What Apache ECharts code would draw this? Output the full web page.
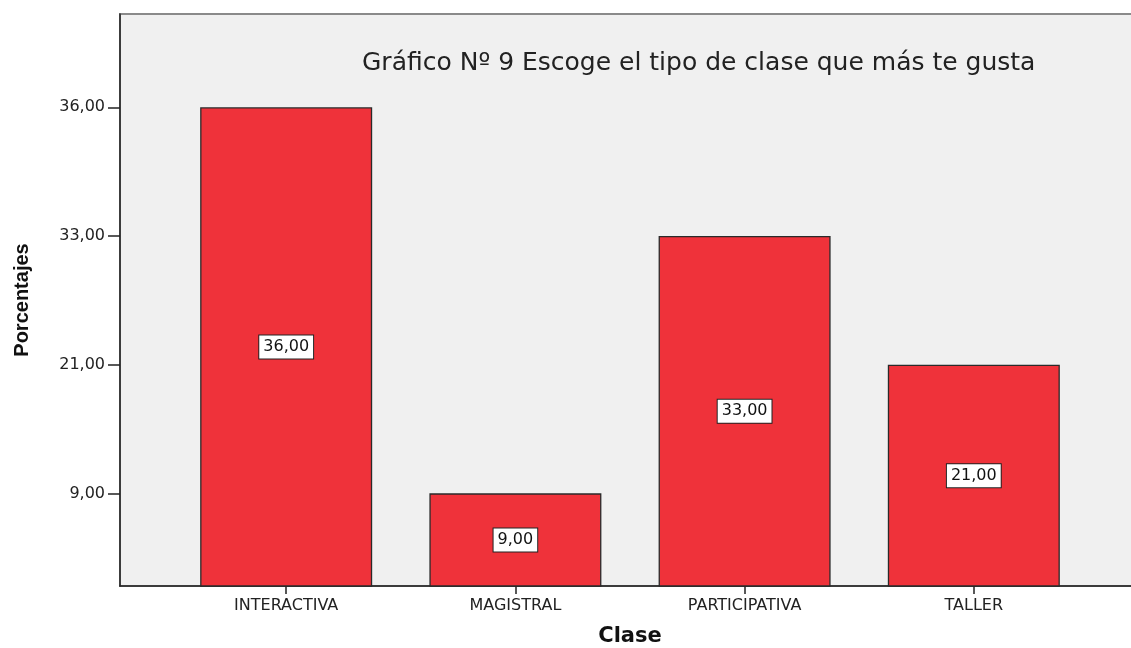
<!DOCTYPE html>
<html>
<head>
<meta charset="utf-8">
<title>Gráfico Nº 9</title>
<script src="https://cdn.jsdelivr.net/npm/echarts@6/dist/echarts.min.js"></script>
<style>
  html, body { margin: 0; padding: 0; background: #fff; }
  #chart { width: 1131px; height: 648px; }
</style>
</head>
<body>
<div id="chart"></div>
<script>
// datos del gráfico
const categories = ['INTERACTIVA', 'MAGISTRAL', 'PARTICIPATIVA', 'TALLER']
const percentages = [36, 9, 33, 21]
// el eje Y de SPSS es ordinal: una marca por cada valor distinto
const yTickValues = [9, 21, 33, 36]

function fmt(v) {
  return v.toFixed(2).replace('.', ',')
}

// posición ordinal de cada valor en el eje Y (1..n)
const tickRanks = yTickValues.map((v, i) => i + 1)
const barData = percentages.map((v, i) => [i, yTickValues.indexOf(v) + 1])

const chart = echarts.init(document.getElementById('chart'))

const option = {
  animation: false,
  title: {
    text: 'Gráfico Nº 9 Escoge el tipo de clase que más te gusta',
    left: 357,
    top: 46,
    textStyle: {
      fontFamily: 'DejaVu Sans',
      fontSize: 25,
      fontWeight: 'normal',
      color: '#222'
    }
  },
  grid: {
    left: 120,
    top: 14,
    width: 1020,
    height: 572,
    outerBoundsMode: 'none',
    containLabel: false,
    show: true,
    backgroundColor: '#f0f0f0',
    borderColor: '#8a8a8a',
    borderWidth: 2
  },
  xAxis: {
    type: 'value',
    min: -0.725,
    max: 3.725,
    name: 'Clase',
    nameLocation: 'middle',
    nameGap: 40,
    nameTextStyle: {
      fontFamily: 'DejaVu Sans',
      fontWeight: 'bold',
      fontSize: 21,
      color: '#111'
    },
    splitLine: { show: false },
    axisLine: { show: true, onZero: false, lineStyle: { color: '#222', width: 1.5 } },
    axisTick: {
      show: true,
      length: 8,
      customValues: categories.map((c, i) => i),
      lineStyle: { color: '#222', width: 1.5 }
    },
    axisLabel: {
      customValues: categories.map((c, i) => i),
      formatter: (v) => categories[Math.round(v)],
      margin: 12,
      fontFamily: 'DejaVu Sans',
      fontSize: 16,
      color: '#222'
    }
  },
  yAxis: {
    type: 'value',
    min: 0.28,
    max: 4.725,
    name: 'Porcentajes',
    nameLocation: 'middle',
    nameGap: 88,
    nameRotate: 90,
    nameTextStyle: {
      fontFamily: 'Liberation Sans Narrow, Liberation Sans',
      fontWeight: 'bold',
      fontSize: 20,
      color: '#111'
    },
    splitLine: { show: false },
    axisLine: { show: true, onZero: false, lineStyle: { color: '#222', width: 1.5 } },
    axisTick: {
      show: true,
      length: 12,
      customValues: tickRanks,
      lineStyle: { color: '#222', width: 1.5 }
    },
    axisLabel: {
      customValues: tickRanks,
      formatter: (v) => fmt(yTickValues[Math.round(v) - 1]),
      margin: 15,
      fontFamily: 'DejaVu Sans',
      fontSize: 16,
      color: '#222'
    }
  },
  series: [
    {
      type: 'bar',
      data: barData,
      barWidth: 172,
      itemStyle: {
        color: '#ef323a',
        borderColor: '#2a2a2a',
        borderWidth: 1.3
      },
      label: {
        show: true,
        position: 'inside',
        formatter: (p) => fmt(percentages[p.dataIndex]),
        fontFamily: 'DejaVu Sans',
        fontSize: 16,
        color: '#111',
        backgroundColor: '#fff',
        borderColor: '#222',
        borderWidth: 1,
        padding: [4, 4, 3, 4]
      }
    }
  ]
}

chart.setOption(option)
</script>
</body>
</html>
